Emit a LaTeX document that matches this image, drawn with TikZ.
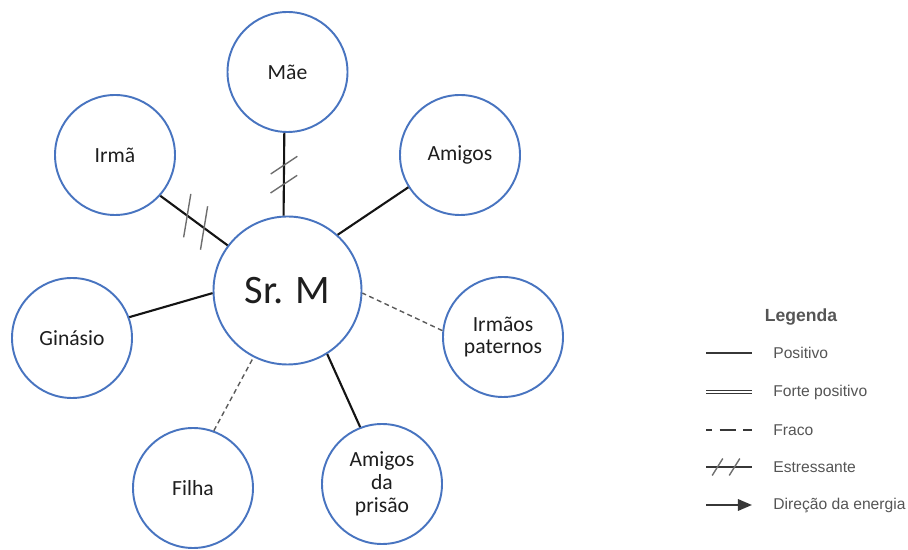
\documentclass[tikz,border=0pt]{standalone}
\usepackage{fontspec}
\setmainfont{Carlito}
\newfontfamily\legfont{Liberation Sans}
\usetikzlibrary{arrows.meta,decorations.markings}
\definecolor{azulcirculo}{RGB}{72,116,192}
\definecolor{textoescuro}{RGB}{30,30,30}
\definecolor{linhaescura}{RGB}{20,20,20}
\definecolor{cinzatracejado}{RGB}{90,90,90}
\definecolor{cinzarisco}{RGB}{110,110,110}
\definecolor{cinzalegenda}{RGB}{85,85,85}
\definecolor{linhalegenda}{RGB}{55,55,55}

\begin{document}
\begin{tikzpicture}[
  pessoa/.style={circle, draw=azulcirculo, line width=1.1pt, fill=white,
    minimum size=2.4cm, inner sep=0pt, align=center, text=textoescuro,
    font=\fontsize{12.3}{13}\selectfont},
  positivo/.style={draw=linhaescura, line width=1.2pt},
  fraco/.style={draw=cinzatracejado, line width=0.8pt, dash pattern=on 2.8pt off 2pt},
  risco/.style={draw=cinzarisco, line width=0.8pt},
  estresse/.style n args={4}{postaction={decorate}, decoration={markings,
    mark=at position #3 with {\draw[risco, rotate=#1] (-#2,0) -- (#2,0);},
    mark=at position #4 with {\draw[risco, rotate=#1] (-#2,0) -- (#2,0);}}},
  legtexto/.style={anchor=west, inner sep=0pt, text=cinzalegenda,
    font=\legfont\fontsize{8.9}{10}\selectfont},
  leglinha/.style={draw=linhalegenda, line width=1.1pt}
]
\useasboundingbox (0,0) rectangle (18.16,11);

% pessoas
\node[pessoa, minimum size=2.96cm, font=\fontsize{23}{26}\selectfont] (srm) at (5.75,5.19) {Sr. M};
\node[pessoa] (mae) at (5.75,9.56) {Mãe};
\node[pessoa] (irma) at (2.3,7.9) {Irmã};
\node[pessoa] (amigos) at (9.2,7.9) {Amigos};
\node[pessoa] (irmaos) at (10.06,4.26) {Irmãos\\paternos};
\node[pessoa] (ginasio) at (1.44,4.24) {Ginásio};
\node[pessoa] (filha) at (3.86,1.24) {Filha};
\node[pessoa] (prisao) at (7.64,1.32) {Amigos\\da\\prisão};

% relacoes
\draw[positivo, estresse={124}{0.32cm}{0.39}{0.62}] (mae.267) -- (srm.93);
\draw[positivo, estresse={117}{0.44cm}{0.40}{0.65}] (irma.318) -- (srm.143.5);
\draw[positivo] (amigos.212) -- (srm.48.7);
\draw[fraco] (irmaos.174) -- (srm.358);
\draw[positivo] (ginasio.20) -- (srm.182);
\draw[fraco] (filha.70) -- (srm.243.6);
\draw[positivo] (prisao.111) -- (srm.302);

% legenda
\node[text=cinzalegenda, font=\legfont\bfseries\fontsize{10}{12}\selectfont] (legenda) at (16.02,4.66) {Legenda};
\node[legtexto] (tpos) at (15.46,3.94) {Positivo};
\node[legtexto] (tforte) at (15.46,3.16) {Forte positivo};
\node[legtexto] (tfraco) at (15.46,2.4) {Fraco};
\node[legtexto] (testr) at (15.46,1.66) {Estressante};
\node[legtexto] (tdir) at (15.46,0.9) {Direção da energia};
\coordinate (pos1) at (14.12,3.94);  \coordinate (pos2) at (15.04,3.94);
\coordinate (forte1) at (14.12,3.16); \coordinate (forte2) at (15.04,3.16);
\coordinate (fraco1) at (14.12,2.4);  \coordinate (fraco2) at (15.04,2.4);
\coordinate (estr1) at (14.12,1.66);  \coordinate (estr2) at (15.04,1.66);
\coordinate (dir1) at (14.12,0.9);    \coordinate (dir2) at (15.04,0.9);
\draw[leglinha] (pos1) -- (pos2);
\draw[leglinha, line width=0.75pt, double=white, double distance=1pt] (forte1) -- (forte2);
\draw[leglinha, line width=0.7pt, dash pattern=on 9pt off 4.5pt, dash phase=5.7pt] (fraco1) -- (fraco2);
\draw[leglinha, line width=0.8pt, estresse={58}{0.2cm}{0.25}{0.62}] (estr1) -- (estr2);
\draw[leglinha, -{Triangle[length=8pt,width=6.5pt]}] (dir1) -- (dir2);
\end{tikzpicture}
\end{document}
